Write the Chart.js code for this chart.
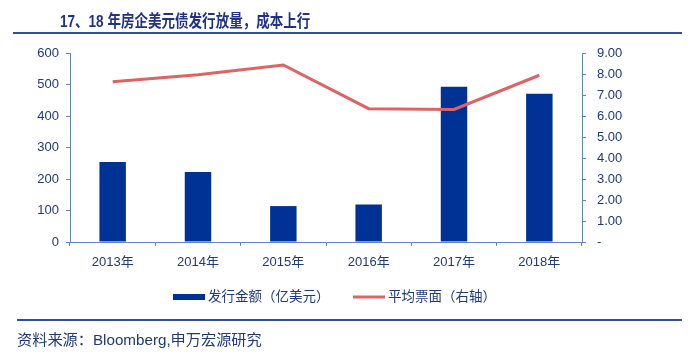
<!DOCTYPE html>
<html>
<head>
<meta charset="utf-8">
<script src="https://cdn.jsdelivr.net/npm/chart.js@4.4.1/dist/chart.umd.min.js"></script>
<style>
html,body{margin:0;padding:0;background:#fff;}
#wrap{position:relative;width:688px;height:359px;overflow:hidden;font-family:"Liberation Sans","Noto Sans CJK SC",sans-serif;}
#title{position:absolute;left:60px;top:8px;font-size:16.5px;font-weight:bold;color:#1F3288;white-space:nowrap;transform-origin:0 0;transform:scaleX(0.82);font-family:"Liberation Sans","Noto Sans CJK SC",sans-serif;}
#tline{position:absolute;left:13px;top:32px;width:669px;height:2px;background:#2E4F9E;}
#fline{position:absolute;left:17px;top:319px;width:665px;height:2px;background:#2E4F9E;}
#foot{position:absolute;left:17px;top:327px;font-size:15.2px;color:#1F3A7A;white-space:nowrap;}
#c{position:absolute;left:0;top:0;}
</style>
</head>
<body>
<div id="wrap">
<canvas id="c" width="688" height="359"></canvas>
<div id="title">17、18 年房企美元债发行放量，成本上行</div>
<div id="tline"></div>
<div id="fline"></div>
<div id="foot">资料来源：Bloomberg,申万宏源研究</div>
</div>
<script>
const categories = ['2013年','2014年','2015年','2016年','2017年','2018年'];
const issuance = [254, 222, 114, 119, 493, 471];
const coupon = [7.63, 7.96, 8.43, 6.35, 6.31, 7.94];
const seriesNames = ['发行金额（亿美元）','平均票面（右轴）'];

const tickColor = '#1F3A7A';
const axisColor = '#5E86C4';
const barColor = '#003194';
const lineColor = '#DD6462';
const font = {family:'"Liberation Sans","Noto Sans CJK SC",sans-serif', size:13};

const legendPlugin = {
  id:'customLegend',
  afterDraw(chart){
    const ctx = chart.ctx;
    const y = 297;
    const barDs = chart.data.datasets.find(d => d.type === 'bar');
    const lineDs = chart.data.datasets.find(d => d.type === 'line');
    ctx.save();
    ctx.font = '13.5px "Liberation Sans","Noto Sans CJK SC",sans-serif';
    ctx.textBaseline = 'middle';
    ctx.fillStyle = barDs.backgroundColor;
    ctx.fillRect(173, y-3, 32, 6);
    ctx.fillStyle = tickColor;
    ctx.fillText(barDs.label, 208, y);
    ctx.strokeStyle = lineDs.borderColor;
    ctx.lineWidth = 3;
    ctx.beginPath(); ctx.moveTo(353, y); ctx.lineTo(385, y); ctx.stroke();
    ctx.fillStyle = tickColor;
    ctx.fillText(lineDs.label, 388, y);
    ctx.restore();
  }
};

new Chart(document.getElementById('c'), {
  data:{
    labels: categories,
    datasets:[
      {type:'line', label:seriesNames[1], data:coupon, yAxisID:'y1', borderColor:lineColor, backgroundColor:lineColor, borderWidth:3, pointRadius:0, tension:0, order:0},
      {type:'bar', label:seriesNames[0], data:issuance, yAxisID:'y', backgroundColor:barColor, barPercentage:0.62, categoryPercentage:0.5, order:1}
    ]
  },
  options:{
    responsive:false,
    animation:false,
    layout:{padding:{top:53, bottom:87, left:0, right:0}},
    plugins:{legend:{display:false}, tooltip:{enabled:false}},
    scales:{
      x:{
        offset:true,
        grid:{display:true, drawOnChartArea:false, drawTicks:true, tickLength:4, color:axisColor, offset:true},
        border:{display:true, color:axisColor, width:1},
        ticks:{color:tickColor, font:font, padding:9, maxRotation:0},
        afterFit(s){ s.height = 30; }
      },
      y:{
        position:'left', min:0, max:600,
        grid:{display:true, drawOnChartArea:false, drawTicks:true, tickLength:4, color:axisColor},
        border:{display:true, color:axisColor, width:1},
        ticks:{stepSize:100, color:tickColor, font:font, padding:7},
        afterFit(s){ s.width = 70; }
      },
      y1:{
        position:'right', min:0, max:9,
        grid:{display:true, drawOnChartArea:false, drawTicks:true, tickLength:4, color:axisColor},
        border:{display:true, color:axisColor, width:1},
        ticks:{stepSize:1, color:tickColor, font:font, padding:11, callback:v => v===0 ? '-' : v.toFixed(2)},
        afterFit(s){ s.width = 106; }
      }
    }
  },
  plugins:[legendPlugin]
});
</script>
</body>
</html>
